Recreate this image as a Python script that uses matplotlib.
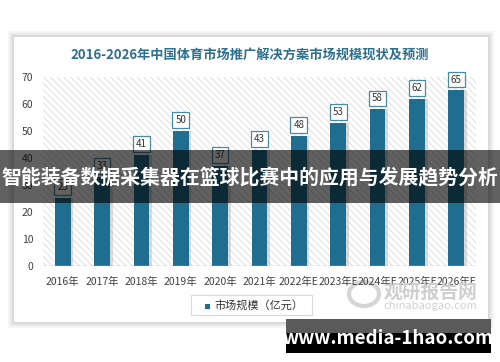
import matplotlib.pyplot as plt
import matplotlib.patches as mpatches
import numpy as np

plt.rcParams['font.family'] = ['Noto Sans CJK SC', 'DejaVu Sans']
plt.rcParams['hatch.color'] = '#d9d9d9'
plt.rcParams['hatch.linewidth'] = 0.6

# 数据
years = ['2016年', '2017年', '2018年', '2019年', '2020年', '2021年',
         '2022年E', '2023年E', '2024年E', '2025年E', '2026年E']
values = [25, 33, 41, 50, 37, 43, 48, 53, 58, 62, 65]
title = '2016-2026年中国体育市场推广解决方案市场规模现状及预测'
legend_label = '市场规模（亿元）'
banner = '智能装备数据采集器在篮球比赛中的应用与发展趋势分析'

W, H = 500, 362
fig = plt.figure(figsize=(W / 100, H / 100), dpi=100)


def fx(x):
    return x / W


def fy(y):
    return 1 - y / H


# 卡片 + 阴影
for i, a in enumerate([0.04, 0.05, 0.06]):
    d = 6 - 2 * i
    fig.patches.append(mpatches.Rectangle((fx(14 - d), fy(322 + d)), (474 + 2 * d) / W, (285 + 2 * d) / H,
                                          transform=fig.transFigure, color='black', alpha=a, lw=0, zorder=-2))
fig.patches.append(mpatches.Rectangle((fx(14), fy(322)), 474 / W, 285 / H,
                                      transform=fig.transFigure, facecolor='white', lw=0, zorder=-1))

fig.text(fx(250), fy(55), title, ha='center', va='center', fontsize=9.5,
         fontweight='bold', color='#2e6f8e')

ax = fig.add_axes([fx(43), fy(265.7), 433 / W, (265.7 - 77) / H])
ax.set_zorder(2)
ax.set_facecolor('none')
x = np.arange(len(years))
ax.set_xlim(-0.5, len(years) - 0.5)
ax.set_ylim(0, 70)
# 斜线背景
ax.add_patch(mpatches.Rectangle((-0.5, 0), len(years), 70, facecolor='white',
                                hatch='\\\\\\\\\\', edgecolor='#dcdcdc', lw=0, zorder=0))
# 阴影柱
ax.bar(x + 0.06, values, width=0.42, color='#b8b8b8', alpha=0.5, zorder=1)
ax.bar(x, values, width=0.4, color='#1f6e8f', zorder=2)
for xi, v in zip(x, values):
    ax.text(xi, v + 2.2, str(v), ha='center', va='bottom', fontsize=7, color='#333333', zorder=3,
            bbox=dict(boxstyle='square,pad=0.3', facecolor='white', edgecolor='#4a88a8', lw=0.9))

ax.axhline(0, color='#bfbfbf', lw=1, zorder=3)
for s in ax.spines.values():
    s.set_visible(False)
ax.set_yticks(range(0, 71, 10))
ax.set_xticks(x)
ax.set_xticklabels(years)
ax.tick_params(axis='both', length=0, labelsize=7.5, colors='#404040')
ax.tick_params(axis='x', pad=8)
ax.tick_params(axis='y', pad=7)

# 图例
fig.patches.append(mpatches.Rectangle((fx(191), fy(315)), 121 / W, 20 / H, transform=fig.transFigure,
                                      facecolor='white', edgecolor='#d9d9d9', lw=0.8))
fig.patches.append(mpatches.Rectangle((fx(205), fy(308.5)), 5 / W, 5 / H, transform=fig.transFigure,
                                      facecolor='#1f6e8f', lw=0))
fig.text(fx(214), fy(305), legend_label, ha='left', va='center', fontsize=8, color='#333333')

# 水印
fig.patches.append(mpatches.Ellipse((fx(364), fy(294)), 30 / W, 24 / H, transform=fig.transFigure,
                                    facecolor='none', edgecolor='#d5d5d5', lw=3))
fig.text(fx(430), fy(292), '观研报告网', ha='center', va='center', fontsize=13.5, fontweight='bold',
         color='#cfcfcf')
fig.text(fx(430), fy(306), 'chinabaogao.com', ha='center', va='center', fontsize=8, color='#d0d0d0')

# 横幅
fig.patches.append(mpatches.Rectangle((0, fy(203)), 1, 53 / H, transform=fig.transFigure,
                                      facecolor='black', alpha=0.62, lw=0, zorder=10))
fig.text(fx(250), fy(178), banner, ha='center', va='center', fontsize=14.3, fontweight='bold',
         color='white', zorder=11)

# 底部网址
fig.patches.append(mpatches.Rectangle((fx(286), fy(353)), 205 / W, 34 / H, transform=fig.transFigure,
                                      facecolor='black', lw=0, zorder=10))
fig.patches.append(mpatches.Rectangle((fx(286), fy(333)), 205 / W, 14 / H, transform=fig.transFigure,
                                      facecolor='#5a5a5a', lw=0, zorder=10))
fig.text(fx(388), fy(339), 'www.media-1hao.com', ha='center', va='center', fontsize=13.5,
         fontweight='bold', color='white', zorder=11)

fig.savefig('out.png', dpi=100)
